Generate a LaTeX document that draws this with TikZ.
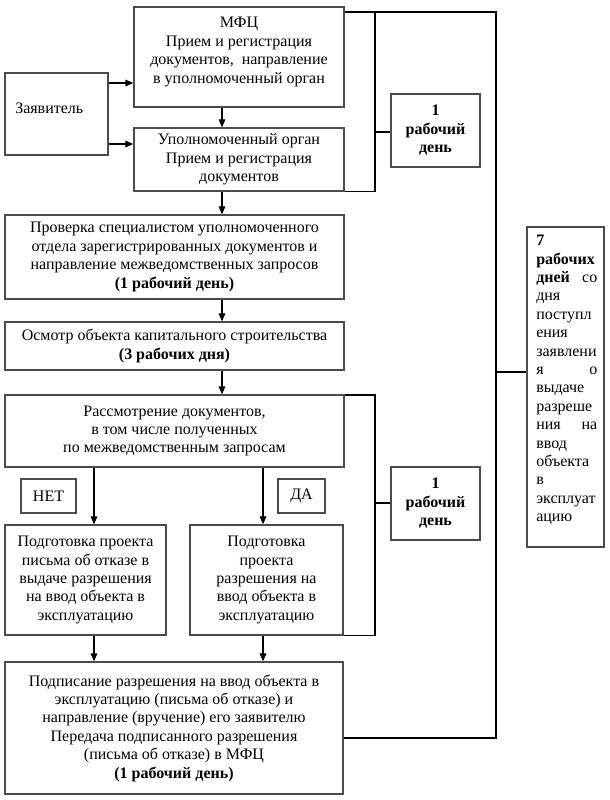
\documentclass[tikz,border=0pt]{standalone}
\usepackage{fontspec}
\setmainfont{Liberation Serif}
\usetikzlibrary{arrows.meta}
\begin{document}
\begin{tikzpicture}[x=0.75pt,y=-0.75pt,
  box/.style={draw=black!70, line width=1pt, inner sep=0pt, align=center, font=\fontsize{12}{13.8}\selectfont},
  txt/.style={inner sep=0pt, align=center, font=\fontsize{12}{13.8}\selectfont},
  ln/.style={line width=0.8pt},
  arr/.style={line width=0.8pt, -{Triangle[length=6pt,width=5pt]}}]
\useasboundingbox (0,0) rectangle (610,800);
% boxes
\node[box, minimum width=157.5pt, minimum height=75pt] (mfc) at (239,57) {};
\node[txt] (mfctext) at (239,52) {МФЦ\\Прием и регистрация\\документов,\enspace направление\\в уполномоченный орган};
\node[box, minimum width=77.25pt, minimum height=61.5pt] (zayav) at (56.5,114) {};
\node[txt, anchor=west] (zayavtext) at (15,108) {Заявитель};
\node[box, minimum width=157.5pt, minimum height=47.25pt] (upoln) at (239,159.5) {Уполномоченный орган\\Прием и регистрация\\документов};
\node[box, minimum width=66.75pt, minimum height=54.75pt] (day1) at (435.5,130.5) {\textbf{1}\\\textbf{рабочий}\\\textbf{день}};
\node[box, minimum width=254.25pt, minimum height=63pt] (prov) at (174.5,257) {Проверка специалистом уполномоченного\\отдела зарегистрированных документов и\\направление межведомственных запросов\\\textbf{(1 рабочий день)}};
\node[box, minimum width=254.25pt, minimum height=36pt] (osm) at (174.5,346) {Осмотр объекта капитального строительства\\\textbf{(3 рабочих дня)}};
\node[box, minimum width=254.25pt, minimum height=54pt] (rassm) at (174.5,431) {Рассмотрение документов,\\в том числе полученных\\по межведомственным запросам};
\node[box, minimum width=41.25pt, minimum height=25.5pt] (net) at (48.5,496) {НЕТ};
\node[box, minimum width=35.25pt, minimum height=25.5pt] (da) at (301.5,496) {ДА};
\node[box, minimum width=120.75pt, minimum height=82.5pt] (podA) at (85.5,580) {Подготовка проекта\\письма об отказе в\\выдаче разрешения\\на ввод объекта в\\эксплуатацию};
\node[box, minimum width=114.75pt, minimum height=82.5pt] (podB) at (266.5,580) {Подготовка\\проекта\\разрешения на\\ввод объекта в\\эксплуатацию};
\node[box, minimum width=253.5pt, minimum height=99pt] (podp) at (174,728) {Подписание разрешения на ввод объекта в\\эксплуатацию (письма об отказе) и\\направление (вручение) его заявителю\\Передача подписанного разрешения\\(письма об отказе) в МФЦ\\\textbf{(1 рабочий день)}};
\node[box, minimum width=66.75pt, minimum height=54.75pt] (day2) at (435.5,503.5) {\textbf{1}\\\textbf{рабочий}\\\textbf{день}};
\node[box, minimum width=57.75pt, minimum height=240pt] (seven) at (565.5,387) {};
\node[txt, anchor=north west, align=left, text width=45.75pt] (seventext) at (536,235) {\textbf{7}\\\textbf{рабочих}\\\makebox[45.75pt][s]{\textbf{дней}\hfill со}\\дня\\поступл\\ения\\заявлени\\\makebox[45.75pt][s]{я\hfill о}\\выдаче\\разреше\\\makebox[45.75pt][s]{ния\hfill на}\\ввод\\объекта\\в\\эксплуат\\ацию};
% helper coordinates
\coordinate (yA) at (0,83);
\coordinate (yB) at (0,144);
\coordinate (xM) at (222,0);
\coordinate (xN) at (94,0);
\coordinate (xD) at (263,0);
\coordinate (xb1) at (375,0);
\coordinate (xb2) at (496,0);
\coordinate (yt) at (0,12);
\coordinate (yd1) at (0,132);
\coordinate (ybig) at (0,372);
\coordinate (ybot) at (0,738);
\coordinate (yr) at (0,395);
\coordinate (yd2) at (0,503);
% arrows
\draw[arr] (zayav.east |- yA) -- (mfc.west |- yA);
\draw[arr] (zayav.east |- yB) -- (upoln.west |- yB);
\draw[arr] (mfc.south -| xM) -- (upoln.north -| xM);
\draw[arr] (upoln.south -| xM) -- (prov.north -| xM);
\draw[arr] (prov.south -| xM) -- (osm.north -| xM);
\draw[arr] (osm.south -| xM) -- (rassm.north -| xM);
\draw[arr] (rassm.south -| xN) -- (podA.north -| xN);
\draw[arr] (rassm.south -| xD) -- (podB.north -| xD);
\draw[arr] (podA.south -| xN) -- (podp.north -| xN);
\draw[arr] (podB.south -| xD) -- (podp.north -| xD);
% brackets
\draw[ln] (mfc.east |- yt) -- (xb2 |- yt) -- (xb2 |- ybot) -- (podp.east |- ybot);
\draw[ln] (xb1 |- yt) -- (xb1 |- upoln.south) -- (upoln.south east);
\draw[ln] (xb1 |- yd1) -- (day1.west |- yd1);
\draw[ln] (xb2 |- ybig) -- (seven.west |- ybig);
\draw[ln] (rassm.east |- yr) -- (xb1 |- yr) -- (xb1 |- podB.south) -- (podB.south east);
\draw[ln] (xb1 |- yd2) -- (day2.west |- yd2);
\end{tikzpicture}
\end{document}
